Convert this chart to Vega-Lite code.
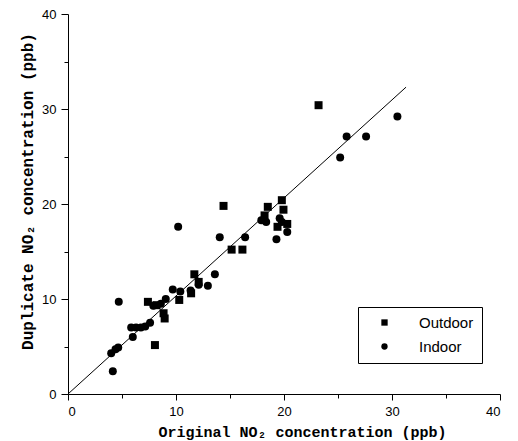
{
  "$schema": "https://vega.github.io/schema/vega-lite/v6.json",
  "width": 432,
  "height": 380,
  "autosize": "none",
  "padding": {"left": 68, "top": 14, "right": 18, "bottom": 47},
  "background": "white",
  "config": {
    "view": {"stroke": null},
    "axis": {
      "grid": false,
      "domainColor": "black",
      "tickColor": "black",
      "labelColor": "black",
      "titleColor": "black",
      "labelFont": "Liberation Sans",
      "labelFontSize": 13,
      "titleFont": "Liberation Mono",
      "titleFontWeight": "bold",
      "titleFontSize": 15
    }
  },
  "datasets": {
    "pts": [
      {"orig": 7.4, "dup": 9.7, "type": "Outdoor"},
      {"orig": 8.05, "dup": 5.15, "type": "Outdoor"},
      {"orig": 8.2, "dup": 9.35, "type": "Outdoor"},
      {"orig": 8.85, "dup": 8.5, "type": "Outdoor"},
      {"orig": 8.95, "dup": 7.95, "type": "Outdoor"},
      {"orig": 10.3, "dup": 9.9, "type": "Outdoor"},
      {"orig": 11.4, "dup": 10.6, "type": "Outdoor"},
      {"orig": 11.7, "dup": 12.6, "type": "Outdoor"},
      {"orig": 12.1, "dup": 11.8, "type": "Outdoor"},
      {"orig": 14.4, "dup": 19.8, "type": "Outdoor"},
      {"orig": 15.15, "dup": 15.2, "type": "Outdoor"},
      {"orig": 16.15, "dup": 15.2, "type": "Outdoor"},
      {"orig": 18.5, "dup": 19.7, "type": "Outdoor"},
      {"orig": 18.2, "dup": 18.8, "type": "Outdoor"},
      {"orig": 19.8, "dup": 20.4, "type": "Outdoor"},
      {"orig": 19.95, "dup": 19.4, "type": "Outdoor"},
      {"orig": 19.4, "dup": 17.6, "type": "Outdoor"},
      {"orig": 20.3, "dup": 17.9, "type": "Outdoor"},
      {"orig": 23.2, "dup": 30.4, "type": "Outdoor"},
      {"orig": 4.0, "dup": 4.3, "type": "Indoor"},
      {"orig": 4.15, "dup": 2.4, "type": "Indoor"},
      {"orig": 4.4, "dup": 4.7, "type": "Indoor"},
      {"orig": 4.65, "dup": 4.9, "type": "Indoor"},
      {"orig": 4.7, "dup": 9.7, "type": "Indoor"},
      {"orig": 6.0, "dup": 6.0, "type": "Indoor"},
      {"orig": 5.85, "dup": 7.0, "type": "Indoor"},
      {"orig": 6.3, "dup": 7.0, "type": "Indoor"},
      {"orig": 6.75, "dup": 7.0, "type": "Indoor"},
      {"orig": 7.15, "dup": 7.1, "type": "Indoor"},
      {"orig": 7.6, "dup": 7.5, "type": "Indoor"},
      {"orig": 7.9, "dup": 9.3, "type": "Indoor"},
      {"orig": 8.6, "dup": 9.5, "type": "Indoor"},
      {"orig": 9.05, "dup": 10.0, "type": "Indoor"},
      {"orig": 9.7, "dup": 11.0, "type": "Indoor"},
      {"orig": 10.4, "dup": 10.8, "type": "Indoor"},
      {"orig": 11.35, "dup": 10.9, "type": "Indoor"},
      {"orig": 12.1, "dup": 11.5, "type": "Indoor"},
      {"orig": 12.95, "dup": 11.4, "type": "Indoor"},
      {"orig": 13.6, "dup": 12.6, "type": "Indoor"},
      {"orig": 10.2, "dup": 17.6, "type": "Indoor"},
      {"orig": 14.05, "dup": 16.5, "type": "Indoor"},
      {"orig": 16.4, "dup": 16.5, "type": "Indoor"},
      {"orig": 17.9, "dup": 18.3, "type": "Indoor"},
      {"orig": 18.35, "dup": 18.1, "type": "Indoor"},
      {"orig": 19.6, "dup": 18.5, "type": "Indoor"},
      {"orig": 19.8, "dup": 18.1, "type": "Indoor"},
      {"orig": 19.3, "dup": 16.3, "type": "Indoor"},
      {"orig": 20.3, "dup": 17.05, "type": "Indoor"},
      {"orig": 25.2, "dup": 24.9, "type": "Indoor"},
      {"orig": 25.8, "dup": 27.1, "type": "Indoor"},
      {"orig": 27.6, "dup": 27.1, "type": "Indoor"},
      {"orig": 30.5, "dup": 29.2, "type": "Indoor"}
    ],
    "fit": [
      {"orig": 0, "dup": 0},
      {"orig": 31.3, "dup": 32.3}
    ]
  },
  "layer": [
    {
      "data": {"name": "fit"},
      "mark": {"type": "line", "color": "black", "strokeWidth": 1},
      "encoding": {
        "x": {"field": "orig", "type": "quantitative"},
        "y": {"field": "dup", "type": "quantitative"}
      }
    },
    {
      "data": {"name": "pts"},
      "mark": {"type": "point", "filled": true, "opacity": 1, "size": 64},
      "encoding": {
        "x": {
          "field": "orig",
          "type": "quantitative",
          "scale": {"domain": [0, 40], "nice": false},
          "axis": {
            "title": "Original NO₂ concentration (ppb)",
            "values": [0, 5, 10, 15, 20, 25, 30, 35, 40],
            "labelExpr": "datum.value % 10 === 0 ? datum.label : ''",
            "tickSize": {"condition": {"test": "datum.value % 10 === 0", "value": 6}, "value": 4},
            "labelPadding": 5,
            "titlePadding": 6,
            "titleX": 234
          }
        },
        "y": {
          "field": "dup",
          "type": "quantitative",
          "scale": {"domain": [0, 40], "nice": false},
          "axis": {
            "title": "Duplicate NO₂ concentration (ppb)",
            "values": [0, 5, 10, 15, 20, 25, 30, 35, 40],
            "labelExpr": "datum.value % 10 === 0 ? datum.label : ''",
            "tickSize": {"condition": {"test": "datum.value % 10 === 0", "value": 7}, "value": 4},
            "labelPadding": 5,
            "titlePadding": 6,
            "titleFontSize": 16,
            "titleY": 177
          }
        },
        "shape": {
          "field": "type",
          "type": "nominal",
          "scale": {"domain": ["Outdoor", "Indoor"], "range": ["square", "circle"]},
          "legend": {
            "title": null,
            "orient": "none",
            "legendX": 290,
            "legendY": 293,
            "strokeColor": "black",
            "padding": 8,
            "symbolOffset": 11,
            "symbolSize": 40,
            "symbolFillColor": "black",
            "symbolStrokeColor": "black",
            "labelFont": "Liberation Sans",
            "labelFontSize": 15,
            "labelColor": "black",
            "labelOffset": 27,
            "rowPadding": 8
          }
        },
        "color": {"value": "black"}
      }
    }
  ]
}
